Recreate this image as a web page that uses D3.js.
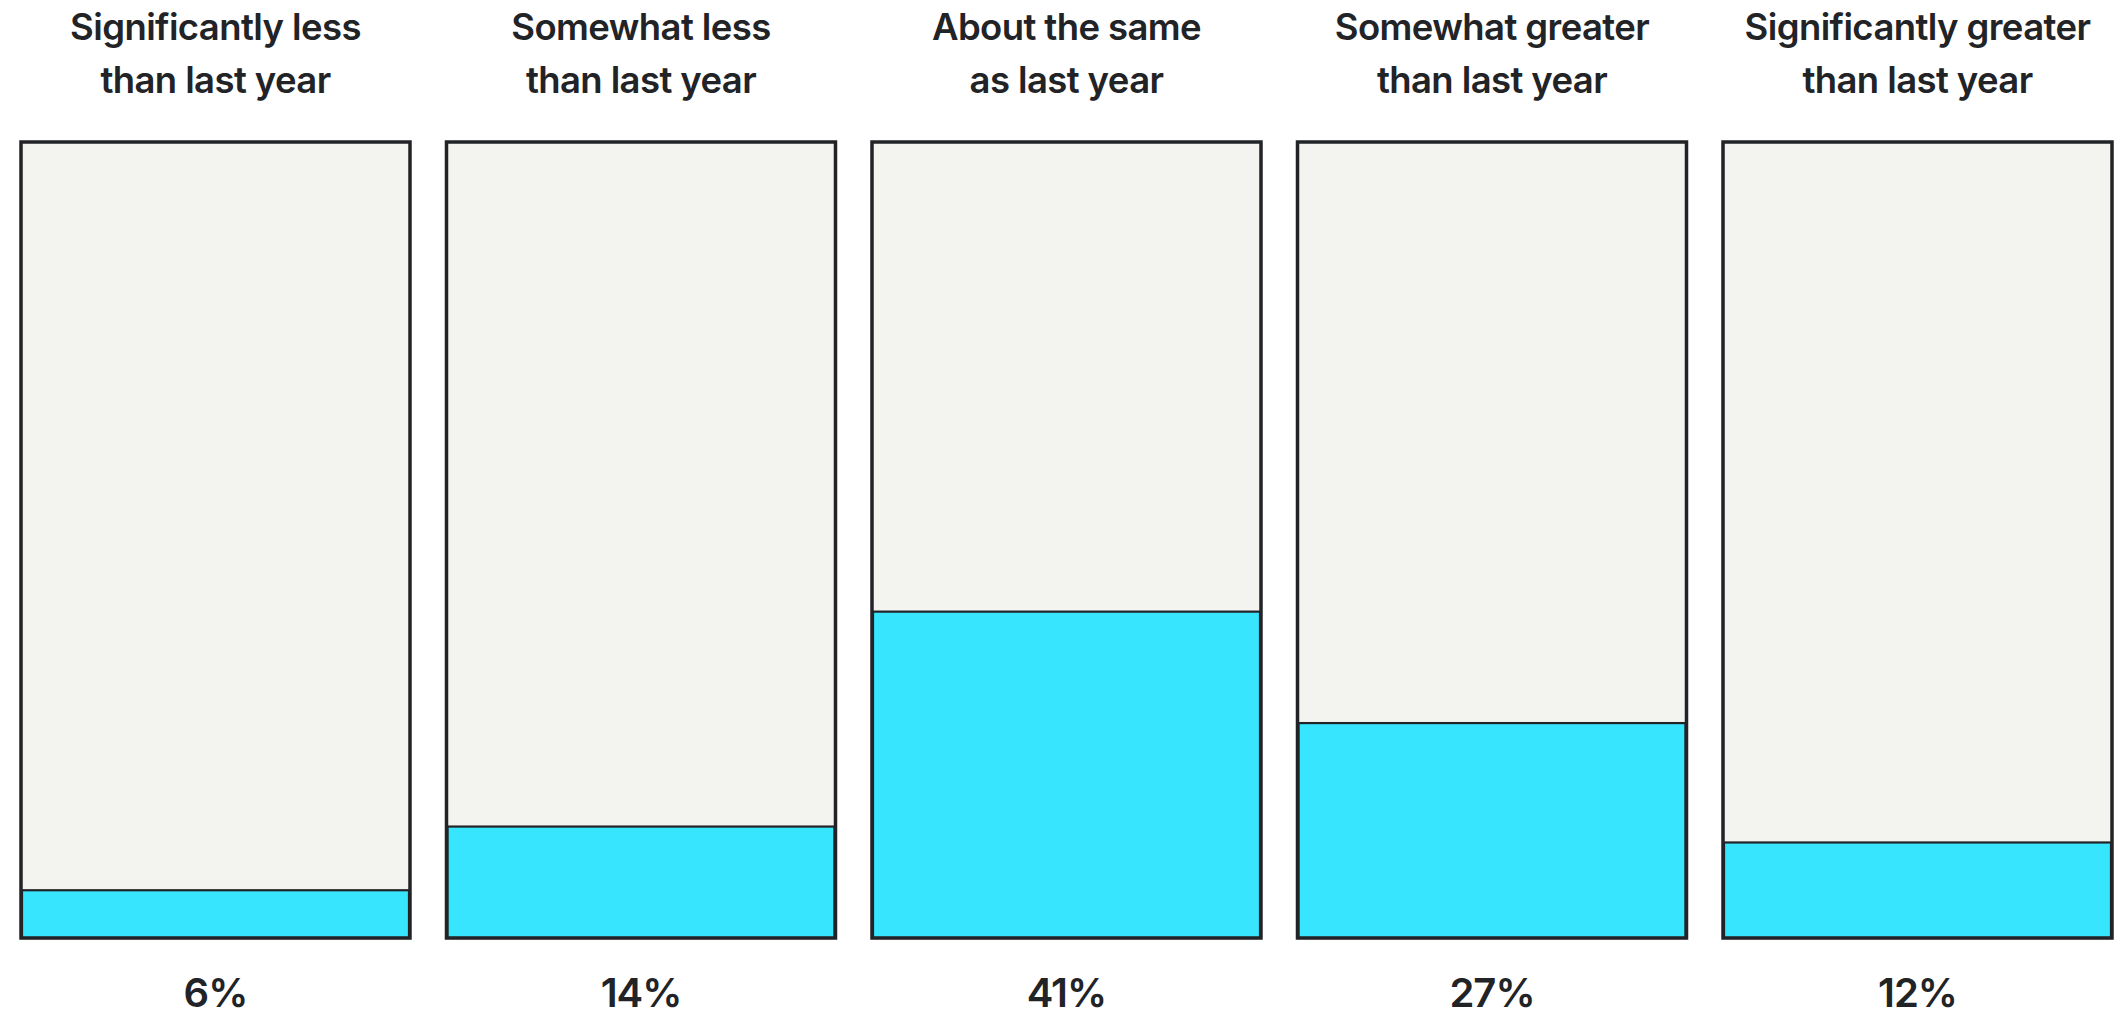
<!DOCTYPE html>
<html>
<head>
<meta charset="utf-8">
<script src="https://cdn.jsdelivr.net/npm/d3@7"></script>
<style>
  html, body { margin: 0; padding: 0; background: #ffffff; }
  svg { display: block; }
  text { font-family: Inter, "Noto Sans", sans-serif; fill: #222326; }
</style>
</head>
<body>
<svg id="chart"></svg>
<script>
// Survey answer categories, each split into two header lines
const categories = [
  "Significantly less than last year",
  "Somewhat less than last year",
  "About the same as last year",
  "Somewhat greater than last year",
  "Significantly greater than last year"
];
const headerLine1 = [
  "Significantly less",
  "Somewhat less",
  "About the same",
  "Somewhat greater",
  "Significantly greater"
];
const headerLine2 = [
  "than last year",
  "than last year",
  "as last year",
  "than last year",
  "than last year"
];
// Share of respondents (percent)
const shares = [6, 14, 41, 27, 12];
const valueLabels = ["6%", "14%", "41%", "27%", "12%"];

const W = 2124, H = 1018;
const margin = { left: 21, right: 12 };
const panelTop = 142, panelBottom = 938;

const svg = d3.select("#chart").attr("width", W).attr("height", H);

const data = categories.map((c, i) => ({
  category: c,
  line1: headerLine1[i],
  line2: headerLine2[i],
  value: shares[i],
  label: valueLabels[i]
}));

const x = d3.scaleBand()
  .domain(categories)
  .range([margin.left, W - margin.right])
  .paddingInner(0.0858)
  .paddingOuter(0);

const y = d3.scaleLinear()
  .domain([0, 100])
  .range([panelBottom, panelTop]);

const panel = svg.selectAll("g.panel")
  .data(data)
  .join("g")
  .attr("class", "panel")
  .attr("transform", d => `translate(${x(d.category)},0)`);

// background track
panel.append("rect")
  .attr("x", 0)
  .attr("y", y(100))
  .attr("width", x.bandwidth())
  .attr("height", y(0) - y(100))
  .attr("fill", "#f3f3ef");

// value bar
panel.append("rect")
  .attr("x", 1)
  .attr("y", d => y(d.value))
  .attr("width", x.bandwidth() - 2)
  .attr("height", d => y(0) - y(d.value))
  .attr("fill", "#38e5ff")
  .attr("stroke", "#222326")
  .attr("stroke-width", 2.2);

// outer frame
panel.append("rect")
  .attr("x", 0)
  .attr("y", y(100))
  .attr("width", x.bandwidth())
  .attr("height", y(0) - y(100))
  .attr("fill", "none")
  .attr("stroke", "#222326")
  .attr("stroke-width", 3.5);

// header labels
const header = panel.append("text")
  .attr("text-anchor", "middle")
  .attr("font-size", 36.5)
  .attr("font-weight", 600)
  .attr("letter-spacing", -0.6);
header.append("tspan")
  .attr("x", x.bandwidth() / 2)
  .attr("y", 40)
  .text(d => d.line1);
header.append("tspan")
  .attr("x", x.bandwidth() / 2)
  .attr("y", 93)
  .text(d => d.line2);

// percentage labels
panel.append("text")
  .attr("x", x.bandwidth() / 2)
  .attr("y", 1007)
  .attr("text-anchor", "middle")
  .attr("font-size", 40)
  .attr("font-weight", 600)
  .attr("letter-spacing", -1)
  .text(d => d.label);
</script>
</body>
</html>
